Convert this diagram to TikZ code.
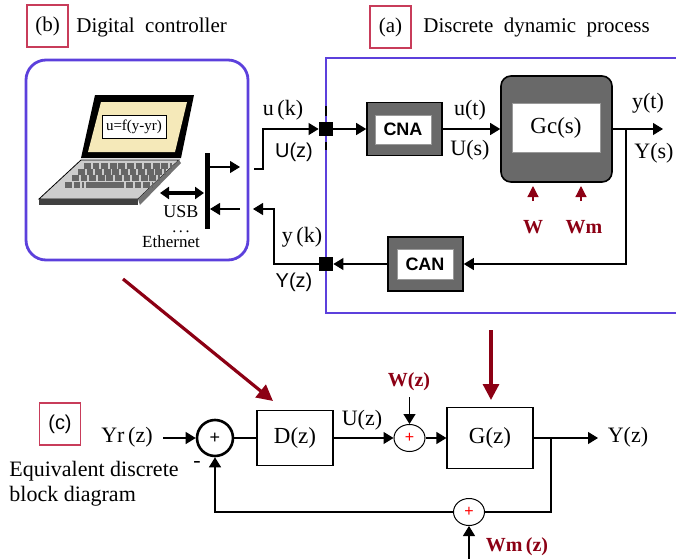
\documentclass[tikz,border=0pt]{standalone}
\usepackage{fontspec}
\setmainfont{Liberation Serif}
\setsansfont{Liberation Sans}
\usetikzlibrary{arrows.meta,shapes.geometric,calc}

\definecolor{frameblue}{RGB}{92,64,220}
\definecolor{tagred}{RGB}{200,60,90}
\definecolor{dred}{RGB}{140,0,20}
\definecolor{blockgrey}{RGB}{105,105,105}
\definecolor{screenyel}{RGB}{245,233,185}
\definecolor{basegrey}{RGB}{205,205,205}

\tikzset{
  txt/.style={inner sep=0pt, font=\fontsize{11}{12.5}\selectfont},
  stxt/.style={inner sep=0pt, font=\sffamily\fontsize{10}{12}\selectfont},
  title/.style={inner sep=0pt, anchor=west, font=\fontsize{10.5}{12}\selectfont},
  tagbox/.style={draw=tagred, line width=0.6pt, minimum width=20.5pt, minimum height=21pt,
    inner sep=0pt, font=\fontsize{10.5}{12}\selectfont},
  outblk/.style={draw=black, fill=blockgrey, line width=0.8pt, inner sep=0pt},
  inblk/.style={draw=black!40, fill=white, line width=0.4pt, inner sep=0pt},
  dist/.style={inner sep=0pt, text=dred, font=\bfseries\fontsize{10}{12}\selectfont},
  blk/.style={draw=black, line width=0.6pt, inner sep=0pt, font=\fontsize{11.5}{13}\selectfont},
  smallsum/.style={ellipse, draw=black, line width=0.5pt, minimum width=15.5pt,
    minimum height=13.5pt, inner sep=0pt, text=red, font=\sffamily\fontsize{8}{9}\selectfont},
  sig/.style={line width=0.6pt, -{Triangle[length=5pt,width=6pt]}},
  plain/.style={line width=0.6pt},
  bigred/.style={draw=dred, line width=1.6pt, -{Triangle[length=8pt,width=8pt]}},
  smallred/.style={draw=dred, line width=0.6pt, -{Triangle[length=5.5pt,width=5.5pt]}},
  keyrow/.style={line width=2.6pt, draw=black!60, dash pattern=on 3.4pt off 0.9pt}
}

\begin{document}
\begin{tikzpicture}[x=0.5pt,y=-0.5pt]
\useasboundingbox (0,0) rectangle (676,558);

% ---------- titles ----------
\node[tagbox] (tagb) at (47.5,26) {(b)};
\node[title] (titleb) at (76,27) {Digital\ \ controller};
\node[tagbox] (taga) at (390.5,27) {(a)};
\node[title] (titlea) at (423,27) {Discrete\ \ dynamic\ \ process};

% ---------- (b) digital controller ----------
\draw[frameblue, line width=1.4pt, rounded corners=10pt] (26,60) rectangle (248,260);

% laptop screen
\fill[black] (95,95) -- (194,95) -- (181,158) -- (81,158) -- cycle;
\fill[screenyel] (101,102) -- (187,102) -- (175,152) -- (88,152) -- cycle;
\node[draw=black, fill=white, line width=0.4pt, minimum width=32pt, minimum height=11.5pt,
  inner sep=0pt, font=\fontsize{7.5}{9}\selectfont] (formula) at (134,126.5) {u=f(y-yr)};
% laptop base
\fill[basegrey, draw=black, line width=0.4pt] (81,160) -- (179,160) -- (138,199) -- (39,199) -- cycle;
\fill[black!75] (39,199) -- (138,199) -- (138,205) -- (39,205) -- cycle;
\fill[black!55] (179,160) -- (181,163) -- (140,205) -- (138,199) -- cycle;
% keyboard
\draw[keyrow] (84,166) -- (172,166);
\draw[keyrow] (78,172) -- (166,172);
\draw[keyrow] (72,178) -- (160,178);
\draw[keyrow] (65,185) -- (84,185);
\draw[line width=2.6pt, black!60] (86,185) -- (124,185);
\draw[keyrow] (126,185) -- (153,185);

% interface bus
\coordinate (bustop) at (207,153);
\coordinate (busbot) at (207,229);
\draw[line width=2.5pt] (bustop) -- (busbot);
\coordinate (outa) at (209,167);
\coordinate (outb) at (240,167);
\coordinate (ina) at (240,209);
\coordinate (inb) at (210,209);
\draw[sig] (outa) -- (outb);
\draw[sig] (ina) -- (inb);
\coordinate (usba) at (160,193);
\coordinate (usbb) at (204,193);
\draw[line width=1.6pt, {Triangle[length=4.5pt,width=6pt]}-{Triangle[length=4.5pt,width=6pt]}] (usba) -- (usbb);
\node[inner sep=0pt, font=\fontsize{9}{10}\selectfont] (usb) at (181,212) {USB};
\node[inner sep=0pt, font=\fontsize{8}{9}\selectfont] (dots) at (181,232) {.\,.\,.};
\node[inner sep=0pt, font=\fontsize{8.5}{10}\selectfont] (eth) at (171,242) {Ethernet};

% ---------- (a) discrete dynamic process ----------
\draw[frameblue, line width=1pt] (676,58) -- (326,58) -- (326,313) -- (676,313);

% sample/hold junctions
\draw[line width=1pt] (326,106) -- (326,116);
\draw[line width=1pt] (326,142) -- (326,150);
\node[fill=black, minimum size=7pt, inner sep=0pt] (sqU) at (326,129) {};
\node[fill=black, minimum size=7pt, inner sep=0pt] (sqY) at (326,264) {};

% CNA
\node[outblk, minimum width=37.5pt, minimum height=26.5pt] (cna) at (404.5,129) {};
\node[inblk, minimum width=28pt, minimum height=14.5pt, font=\sffamily\bfseries\fontsize{9}{10}\selectfont] (cnai) at (403,129.5) {CNA};
% Gc(s)
\node[outblk, rounded corners=5pt, minimum width=55.5pt, minimum height=53pt] (gc) at (556.5,129) {};
\node[inblk, minimum width=44pt, minimum height=24.5pt, font=\fontsize{11.5}{13}\selectfont] (gci) at (556,127.5) {Gc(s)};
% CAN
\node[outblk, minimum width=37.5pt, minimum height=27pt] (can) at (425.5,264) {};
\node[inblk, minimum width=28pt, minimum height=15pt, font=\sffamily\bfseries\fontsize{9}{10}\selectfont] (cani) at (425,264) {CAN};

% signal paths
\coordinate (cout) at (254,169);
\coordinate (cbend) at (263,169);
\draw[sig] (cout) -- (cbend) |- (sqU.west);
\draw[sig] (sqU.east) -- (cna.west);
\draw[sig] (cna.east) -- (gc.west);
\coordinate (yout) at (663,129);
\coordinate (ybr) at (626,129);
\draw[sig] (gc.east) -- (yout);
\draw[sig] (ybr) |- (can.east);
\draw[sig] (can.west) -- (sqY.east);
\coordinate (fb) at (274,209);
\coordinate (cin) at (253,209);
\draw[sig] (sqY.west) -| (fb) -- (cin);

% signal labels
\node[txt] (uk) at (283,110) {u\,(k)};
\node[stxt] (Uz1) at (294,152) {U(z)};
\node[txt] (yk) at (302,237) {y\,(k)};
\node[stxt] (Yz1) at (294,282) {Y(z)};
\node[txt] (ut) at (470,110) {u(t)};
\node[txt] (Us) at (470,150) {U(s)};
\node[txt] (yt) at (648,103) {y(t)};
\node[txt] (Ys) at (654,153) {Y(s)};

% disturbances
\coordinate (wa) at (533,201);
\coordinate (wb) at (533,186);
\coordinate (wma) at (581,201);
\coordinate (wmb) at (581,186);
\draw[smallred] (wa) -- (wb);
\draw[smallred] (wma) -- (wmb);
\node[dist] (W) at (533,227) {W};
\node[dist] (Wm) at (584,227) {Wm};

% links to the equivalent diagram
\coordinate (ra) at (123,279);
\coordinate (rb) at (273,401);
\draw[bigred] (ra) -- (rb);
\coordinate (rc) at (491,330);
\coordinate (rd) at (491,400);
\draw[bigred] (rc) -- (rd);

% ---------- (c) equivalent discrete block diagram ----------
\node[tagbox, font=\sffamily\fontsize{10}{12}\selectfont] (tagc) at (60,424) {(c)};
\node[txt, anchor=west, align=left, font=\fontsize{11}{12.5}\selectfont] (eqtxt) at (9,484)
  {Equivalent discrete\\block diagram};

\node[circle, draw=black, line width=1.3pt, minimum size=18pt, inner sep=0pt,
  font=\sffamily\fontsize{9}{10}\selectfont] (s1) at (215,438) {+};
\node[blk, minimum width=38pt, minimum height=27.5pt] (D) at (295,438) {D(z)};
\node[smallsum] (s2) at (409.5,438) {+};
\node[blk, minimum width=43pt, minimum height=30.5pt] (G) at (490,438) {G(z)};
\node[smallsum] (s3) at (469,512) {+};

\coordinate (yrin) at (163,438);
\node[txt] (Yr) at (127,437) {Yr\,(z)};
\draw[sig] (yrin) -- (s1.west);
\node[inner sep=0pt, font=\fontsize{11}{12}\selectfont] (minus) at (197,464) {-};
\draw[plain] (s1.east) -- (D.west);
\draw[sig] (D.east) -- (s2.west);
\node[txt] (Uz2) at (362,420) {U(z)};
\coordinate (wz) at (409.5,397);
\draw[sig] (wz) -- (s2.north);
\node[dist] (Wzl) at (409,382) {W(z)};
\draw[sig] (s2.east) -- (G.west);
\coordinate (yzout) at (598,438);
\coordinate (gbr) at (551,438);
\draw[sig] (G.east) -- (yzout);
\node[txt] (Yz2) at (628,437) {Y(z)};
\draw[plain] (gbr) |- (s3.east);
\draw[sig] (s3.west) -| (s1.south);
\coordinate (wmin) at (469,560);
\draw[sig] (wmin) -- (s3.south);
\node[dist] (Wmz) at (517,547) {Wm\,(z)};
\end{tikzpicture}
\end{document}
